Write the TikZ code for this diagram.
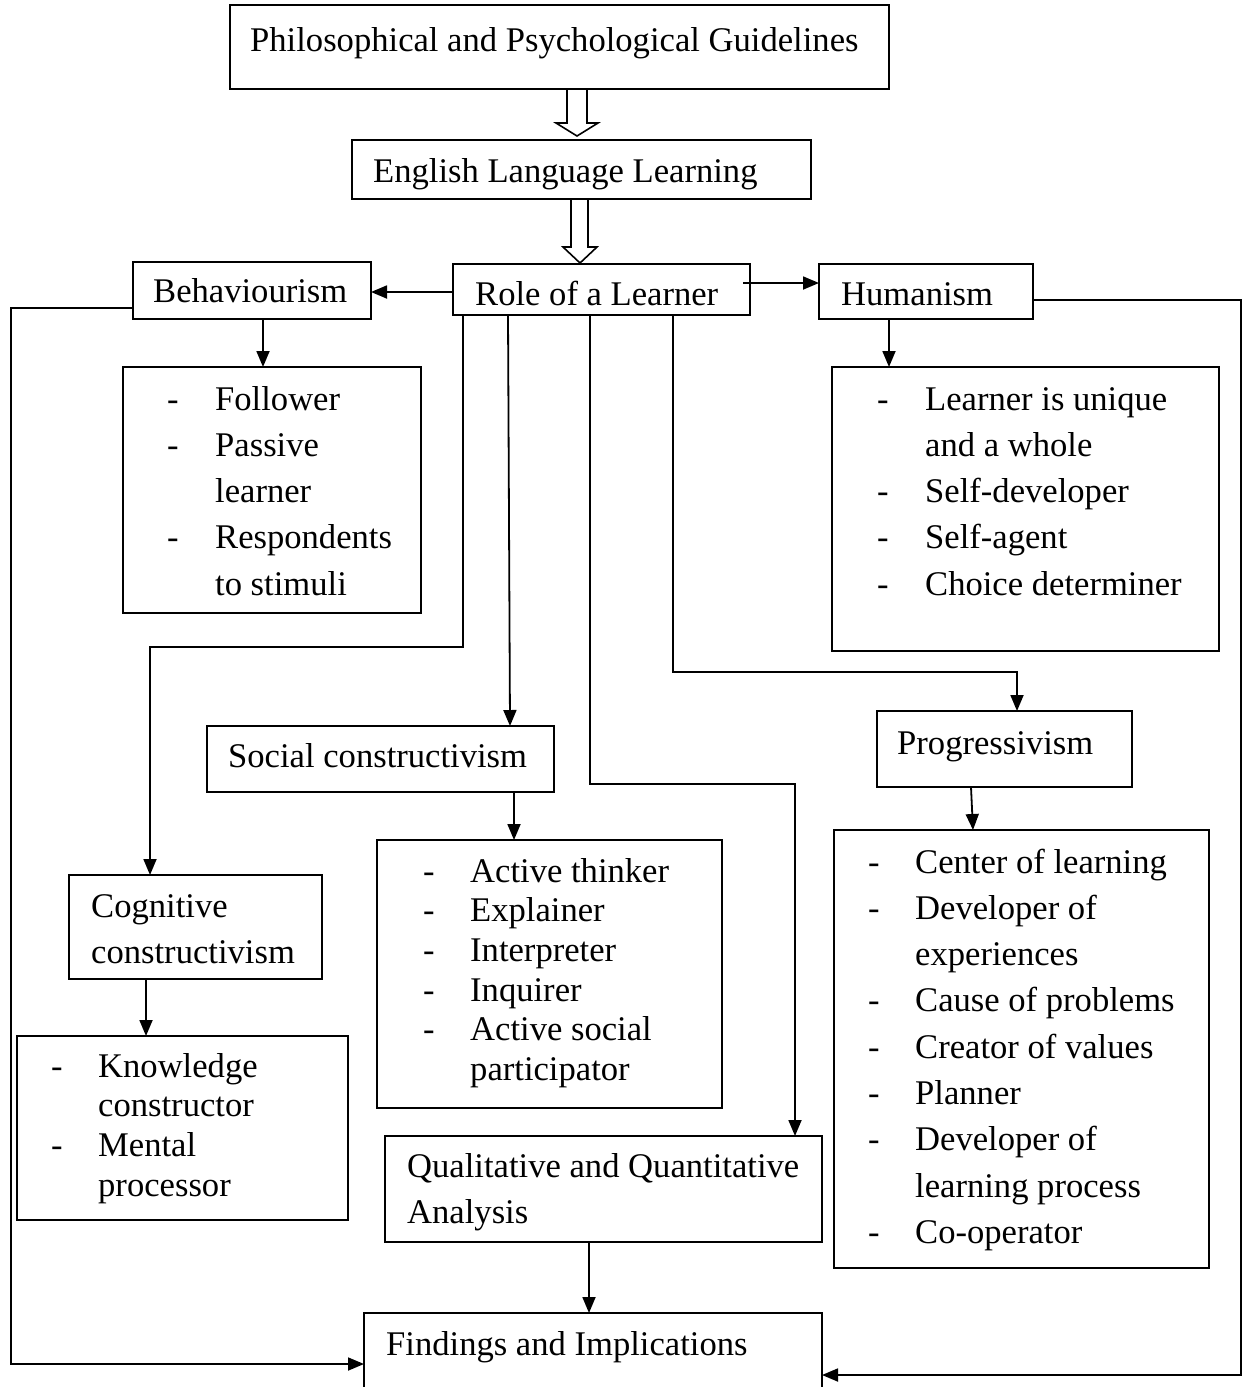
\documentclass[tikz,border=0pt]{standalone}
\usepackage{fontspec}
\setmainfont{Liberation Serif}
\usetikzlibrary{arrows.meta}

\tikzset{
    box/.style={draw, line width=2pt, inner sep=0pt, outer sep=0pt, anchor=north west},
    txt/.style={anchor=base west, inner sep=0pt, font=\fontsize{34.6}{46.3}\selectfont},
    tight/.style={font=\fontsize{34.6}{39.7}\selectfont},
    arr/.style={line width=1.8pt, -{Triangle[length=16pt,width=13pt]}},
    hollow/.style={line width=1.6pt}
}

\begin{document}
\begin{tikzpicture}[x=1pt, y=-1pt]
        \useasboundingbox (0,0) rectangle (1243,1387);

        \node[box, minimum width=659pt, minimum height=84pt] (phil) at (230,5) {};
        \node[box, minimum width=459pt, minimum height=59pt] (ell) at (352,140) {};
        \node[box, minimum width=297pt, minimum height=51pt] (role) at (453,264) {};
        \node[box, minimum width=238pt, minimum height=57pt] (beh) at (133,262) {};
        \node[box, minimum width=214pt, minimum height=55pt] (hum) at (819,264) {};
        \node[box, minimum width=298pt, minimum height=246pt] (behL) at (123,367) {};
        \node[box, minimum width=387pt, minimum height=284pt] (humL) at (832,367) {};
        \node[box, minimum width=347pt, minimum height=66pt] (soc) at (207,726) {};
        \node[box, minimum width=255pt, minimum height=76pt] (prog) at (877,711) {};
        \node[box, minimum width=253pt, minimum height=104pt] (cog) at (69,875) {};
        \node[box, minimum width=345pt, minimum height=268pt] (socL) at (377,840) {};
        \node[box, minimum width=375pt, minimum height=438pt] (progL) at (834,830) {};
        \node[box, minimum width=331pt, minimum height=184pt] (cogL) at (17,1036) {};
        \node[box, minimum width=437pt, minimum height=106pt] (qual) at (385,1136) {};
        \node[box, minimum width=458pt, minimum height=100pt] (find) at (364,1313) {};

        \node[txt] (philT) at (250,51) {Philosophical and Psychological Guidelines};
        \node[txt] (ellT) at (373,182) {English Language Learning};
        \node[txt] (roleT) at (475,305) {Role of a Learner};
        \node[txt] (behT) at (153,302) {Behaviourism};
        \node[txt] (humT) at (841,305) {Humanism};
        \node[txt] (socT) at (228,767) {Social constructivism};
        \node[txt] (progT) at (897,754) {Progressivism};
        \node[txt] (cogT) at (91,917) {\begin{tabular}[t]{@{}l@{}}Cognitive\\ constructivism\end{tabular}};
        \node[txt] (qualT) at (407,1177) {\begin{tabular}[t]{@{}l@{}}Qualitative and Quantitative\\ Analysis\end{tabular}};
        \node[txt] (findT) at (386,1355) {Findings and Implications};

        \node[txt] (behLT) at (167,410) {\begin{tabular}[t]{@{}p{48pt}@{}l@{}}
            - & Follower\\
            - & Passive\\
              & learner\\
            - & Respondents\\
              & to stimuli
        \end{tabular}};
        \node[txt] (humLT) at (877,410) {\begin{tabular}[t]{@{}p{48pt}@{}l@{}}
            - & Learner is unique\\
              & and a whole\\
            - & Self-developer\\
            - & Self-agent\\
            - & Choice determiner
        \end{tabular}};
        \node[txt, tight] (socLT) at (423,882) {\begin{tabular}[t]{@{}p{47pt}@{}l@{}}
            - & Active thinker\\
            - & Explainer\\
            - & Interpreter\\
            - & Inquirer\\
            - & Active social\\
              & participator
        \end{tabular}};
        \node[txt] (progLT) at (868,873) {\begin{tabular}[t]{@{}p{47pt}@{}l@{}}
            - & Center of learning\\
            - & Developer of\\
              & experiences\\
            - & Cause of problems\\
            - & Creator of values\\
            - & Planner\\
            - & Developer of\\
              & learning process\\
            - & Co-operator
        \end{tabular}};
        \node[txt, tight] (cogLT) at (51,1077) {\begin{tabular}[t]{@{}p{47pt}@{}l@{}}
            - & Knowledge\\
              & constructor\\
            - & Mental\\
              & processor
        \end{tabular}};

        \draw[hollow] (phil.south -| 567,0) -- (567,123) -- (556,123) -- (577,136) -- (598,123) -- (587,123) -- (phil.south -| 587,0);
        \draw[hollow] (ell.south -| 571,0) -- (571,247) -- (563,247) -- (580,263) -- (597,247) -- (588,247) -- (ell.south -| 588,0);

        \draw[arr] (role.west |- 0,292) -- (beh.east |- 0,292);
        \draw[arr] (role.east |- 0,283) ++(-7,0) -- (hum.west |- 0,283);
        \draw[arr] (beh.west |- 0,308) -| (11,1364) -- (find.west |- 0,1364);
        \draw[arr] (hum.east |- 0,300) -| (1241,1375) -- (find.east |- 0,1375);
        \draw[arr] (beh.south -| 263,0) -- (behL.north -| 263,0);
        \draw[arr] (hum.south -| 889,0) -- (humL.north -| 889,0);
        \draw[arr] (role.south -| 463,0) |- (150,647) -- (cog.north -| 150,0);
        \draw[arr] (role.south -| 508,0) -- (soc.north -| 510,0);
        \draw[arr] (role.south -| 590,0) |- (795,784) -- (qual.north -| 795,0);
        \draw[arr] (role.south -| 673,0) |- (1017,672) -- (prog.north -| 1017,0);
        \draw[arr] (soc.south -| 514,0) -- (socL.north -| 514,0);
        \draw[arr] (prog.south -| 971,0) -- (progL.north -| 973,0);
        \draw[arr] (cog.south -| 146,0) -- (cogL.north -| 146,0);
        \draw[arr] (qual.south -| 589,0) -- (find.north -| 589,0);
\end{tikzpicture}
\end{document}
